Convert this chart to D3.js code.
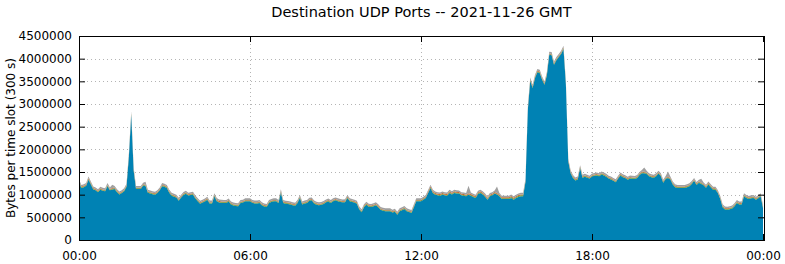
<!DOCTYPE html>
<html lang="en">
<head>
<meta charset="UTF-8">
<title>Destination UDP Ports</title>
<style>
  body { margin: 0; background: #fff; }
  text { font-family: "DejaVu Sans", sans-serif; fill: #000; }
</style>
</head>
<body>
<script src="https://d3js.org/d3.v7.min.js"></script>
<script>
// values in kB per 300 s slot, slot 0 = 00:00, slot 288 = next 00:00
const udpMain = [
  1274,1148,1165,1195,1331,1225,1115,1095,1055,1110,1085,1075,1185,1095,1115,1125,1055,1005,1035,1075,1175,1835,2765,1535,
  1125,1125,1125,1200,1191,1045,1025,1010,1000,1035,1095,1185,1175,1148,1045,975,955,935,865,935,995,1020,980,990,
  1000,915,855,802,825,850,890,805,805,965,855,825,817,817,817,850,785,760,750,745,815,825,855,855,
  855,820,805,805,817,765,740,729,815,840,855,855,815,1050,817,802,795,785,765,758,815,928,785,805,
  817,865,875,805,780,765,775,795,830,850,815,855,875,855,840,830,833,928,855,840,825,802,675,612,
  725,780,735,729,745,765,725,665,645,634,634,634,605,625,559,635,656,685,634,615,597,725,855,855,
  855,890,925,1035,1148,1038,1000,985,978,1000,985,978,1038,1005,1038,1025,1023,985,978,965,996,978,950,928,
  1015,1038,1005,955,890,965,985,1023,1001,965,906,906,906,906,928,890,925,950,965,965,1285,2885,3515,3354,
  3575,3701,3685,3537,3427,3635,4085,4075,3868,3965,4035,4105,4215,3435,1735,1475,1369,1315,1335,1585,1375,1395,1375,1355,
  1400,1415,1425,1406,1445,1425,1395,1355,1335,1305,1274,1355,1425,1385,1365,1331,1359,1350,1345,1369,1435,1475,1475,1455,
  1406,1385,1375,1406,1465,1406,1265,1345,1365,1335,1225,1165,1148,1148,1148,1148,1165,1186,1235,1305,1215,1265,1235,1205,
  1155,1225,1165,1111,1111,1035,905,725,675,670,680,695,745,815,785,785,965,928,906,920,928,890,920,965,
  705
];

const udpGreen = [
  15,15,15,15,15,15,15,15,15,15,15,15,15,15,15,15,15,15,15,15,15,15,15,15,
  15,15,15,15,15,15,15,15,15,15,15,15,15,15,15,15,15,15,15,15,15,15,15,15,
  15,15,15,15,15,15,15,15,15,15,15,15,15,15,15,15,15,15,15,15,15,15,15,15,
  15,15,15,15,15,15,15,15,15,15,15,15,15,15,15,15,15,15,15,15,15,15,15,15,
  15,15,15,15,15,15,15,15,15,15,15,15,15,15,15,15,15,15,15,15,15,15,15,15,
  15,15,15,15,15,15,15,15,15,15,15,15,15,15,15,15,15,15,15,15,15,15,15,15,
  15,15,15,15,15,15,15,15,15,15,15,15,15,15,15,15,15,15,15,15,15,15,15,15,
  15,15,15,15,15,15,15,15,15,15,15,15,15,15,20,20,20,20,20,20,15,15,15,15,
  15,15,15,15,15,15,15,15,15,15,15,15,15,15,15,15,15,15,15,15,15,15,15,15,
  15,15,15,15,15,15,15,15,15,15,15,15,15,15,15,15,15,15,15,15,15,15,15,15,
  15,15,15,15,15,15,15,15,15,15,15,15,15,15,15,15,15,15,15,15,15,15,15,15,
  15,15,15,15,15,15,15,15,15,15,15,15,15,15,15,15,15,15,15,15,15,15,15,15,
  15
];

const udpOrange = [
  15,15,15,15,15,15,15,15,15,15,15,15,15,15,15,15,15,15,15,15,15,15,15,15,
  15,15,15,15,15,15,15,15,15,15,15,15,15,15,15,15,15,15,15,15,15,15,15,15,
  15,15,15,15,15,15,15,15,15,15,20,20,20,15,15,15,15,15,15,15,15,15,15,15,
  15,15,15,15,15,15,15,15,15,15,15,15,15,15,15,15,15,15,15,15,15,15,15,15,
  15,15,15,15,15,15,15,15,15,15,15,15,15,15,15,15,15,15,15,15,15,15,15,15,
  15,15,15,15,15,15,15,15,15,15,15,15,15,15,15,15,15,15,15,15,15,15,15,15,
  15,15,15,20,20,20,20,20,20,20,20,20,20,20,20,20,20,20,20,20,20,20,20,20,
  20,20,20,20,20,20,20,20,20,20,20,20,20,20,20,20,20,20,20,20,15,15,15,15,
  15,15,15,15,15,15,15,15,15,15,15,15,15,15,15,15,15,15,15,15,15,15,15,15,
  15,15,15,15,15,15,15,15,15,15,15,15,15,15,15,15,15,15,15,15,15,15,15,15,
  15,15,15,15,15,15,15,15,15,15,15,15,15,15,15,15,15,15,15,15,15,15,15,15,
  15,15,15,15,15,15,15,15,15,15,15,15,15,15,15,15,15,15,15,15,15,15,15,15,
  15
];

const udpGrey = [
  35,35,35,35,40,35,35,35,35,35,35,35,40,35,75,35,35,35,35,35,35,40,45,40,
  35,35,35,35,65,35,35,35,35,35,35,40,35,35,35,35,35,35,35,35,35,35,35,35,
  35,35,35,35,35,35,35,35,35,35,35,35,35,35,35,35,35,35,35,35,35,35,35,35,
  35,35,35,35,35,35,35,35,35,35,35,35,35,40,35,35,35,35,35,35,35,35,35,35,
  35,35,35,35,35,35,35,35,35,35,35,35,35,35,35,35,35,35,35,35,35,35,35,35,
  35,35,35,35,35,35,35,35,35,35,35,35,35,35,35,35,35,35,35,35,35,35,35,35,
  35,35,35,35,35,35,35,35,35,35,35,35,35,35,35,35,35,35,35,35,165,35,35,35,
  35,35,35,35,35,35,35,35,145,35,35,35,35,35,35,35,35,35,35,35,35,35,40,40,
  40,40,40,40,40,40,40,40,40,40,40,40,40,35,35,35,35,35,35,35,35,35,35,35,
  35,35,35,35,35,35,35,35,35,35,35,35,35,35,35,35,35,35,35,35,35,40,95,40,
  35,35,35,35,35,35,35,35,115,35,35,35,35,35,35,35,35,35,35,35,35,35,85,35,
  35,35,35,35,35,35,35,35,35,35,35,35,35,35,35,35,35,35,35,35,35,35,35,35,
  35
];

const seriesKeys = ["main", "green", "orange", "grey"];
const seriesColors = ["#0082b4", "#5a9e2e", "#c8642a", "#a0a0a0"];
const yTicks = [0, 500000, 1000000, 1500000, 2000000, 2500000, 3000000, 3500000, 4000000, 4500000];
const xTickSeconds = [0, 21600, 43200, 64800, 86400];
const xTickLabels = ["00:00", "06:00", "12:00", "18:00", "00:00"];
const slotSeconds = 300;

const width = 785, height = 264;
const plotLeft = 79, plotRight = 764, plotTop = 36, plotBottom = 240;

const rows = udpMain.map((v, i) => ({
  t: i * slotSeconds,
  main: v * 1000,
  green: udpGreen[i] * 1000,
  orange: udpOrange[i] * 1000,
  grey: udpGrey[i] * 1000
}));

const svg = d3.select("body").append("svg")
  .attr("width", width)
  .attr("height", height);

const x = d3.scaleLinear().domain([0, 86400]).range([plotLeft, 763]);
const y = d3.scaleLinear().domain([0, 4500000]).range([plotBottom, plotTop]);

// grid
const grid = svg.append("g")
  .attr("stroke", "#b4b4b4")
  .attr("stroke-width", 1)
  .attr("stroke-dasharray", "1,3");
grid.selectAll("line.h")
  .data(yTicks.slice(1, -1))
  .enter().append("line")
  .attr("x1", plotLeft).attr("x2", plotRight)
  .attr("y1", d => Math.round(y(d)) + 0.5)
  .attr("y2", d => Math.round(y(d)) + 0.5);
grid.selectAll("line.v")
  .data(xTickSeconds.slice(1, -1))
  .enter().append("line")
  .attr("y1", plotTop).attr("y2", plotBottom)
  .attr("x1", d => Math.round(x(d)) + 0.5)
  .attr("x2", d => Math.round(x(d)) + 0.5);

// stacked areas
const stack = d3.stack().keys(seriesKeys);
const layers = stack(rows);

const area = d3.area()
  .x(d => x(d.data.t))
  .y0(d => y(d[0]))
  .y1(d => y(d[1]));

svg.append("g")
  .selectAll("path")
  .data(layers)
  .enter().append("path")
  .attr("fill", (d, i) => seriesColors[i])
  .attr("d", area);

// axes
svg.append("g")
  .attr("transform", `translate(${plotLeft},0)`)
  .call(d3.axisLeft(y).tickValues(yTicks).tickFormat(d3.format("d"))
    .tickSizeInner(-6).tickSizeOuter(0).tickPadding(7))
  .call(g => g.select(".domain").remove())
  .call(g => g.selectAll("text").attr("font-size", 12).attr("font-family", "DejaVu Sans"));

svg.append("g")
  .attr("transform", `translate(${plotRight},0)`)
  .call(d3.axisRight(y).tickValues(yTicks).tickFormat("")
    .tickSizeInner(-6).tickSizeOuter(0))
  .call(g => g.select(".domain").remove());

svg.append("g")
  .attr("transform", `translate(0,${plotBottom})`)
  .call(d3.axisBottom(x).tickValues(xTickSeconds).tickFormat((d, i) => xTickLabels[i])
    .tickSizeInner(-6).tickSizeOuter(0).tickPadding(11))
  .call(g => g.select(".domain").remove())
  .call(g => g.selectAll("text").attr("font-size", 12).attr("font-family", "DejaVu Sans"));

svg.append("g")
  .attr("transform", `translate(0,${plotTop})`)
  .call(d3.axisTop(x).tickValues(xTickSeconds).tickFormat("")
    .tickSizeInner(-6).tickSizeOuter(0))
  .call(g => g.select(".domain").remove());

// border
svg.append("rect")
  .attr("x", plotLeft + 0.5).attr("y", plotTop + 0.5)
  .attr("width", plotRight - plotLeft).attr("height", plotBottom - plotTop)
  .attr("fill", "none")
  .attr("stroke", "#000")
  .attr("stroke-width", 1);

// title and label
svg.append("text")
  .attr("x", (plotLeft + plotRight) / 2)
  .attr("y", 17)
  .attr("text-anchor", "middle")
  .attr("font-size", 14.5)
  .text("Destination UDP Ports -- 2021-11-26 GMT");

svg.append("text")
  .attr("transform", `translate(15,${(plotTop + plotBottom) / 2}) rotate(-90)`)
  .attr("text-anchor", "middle")
  .attr("font-size", 12)
  .text("Bytes per time slot (300 s)");
</script>
</body>
</html>
